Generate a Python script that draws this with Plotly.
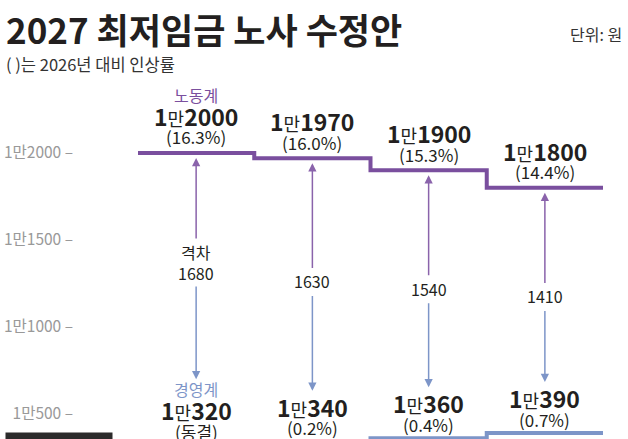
import plotly.graph_objects as go

# ---------------- data ----------------
columns = ["1차", "2차", "3차", "4차"]
labor_wage = [12000, 11970, 11900, 11800]          # 노동계
labor_rate = ["16.3%", "16.0%", "15.3%", "14.4%"]
mgmt_wage = [10320, 10340, 10360, 10390]           # 경영계
mgmt_rate = ["동결", "0.2%", "0.4%", "0.7%"]
base_2026 = 10320
y_ticks = [10500, 11000, 11500, 12000]

title_text = "2027 최저임금 노사 수정안"
subtitle_text = "( )는 2026년 대비 인상률"
unit_text = "단위: 원"

# ---------------- styling / geometry ----------------
W, H = 628, 439
ML = 74
PW = W - ML
Y_TOP, Y_BOT = 12879, 10356
PX = H / (Y_TOP - Y_BOT)          # pixels per won
X0 = -0.5 - 64 / 116.25
X1 = 3.5 + 25 / 116.25

PURPLE = "#7a4f9e"
PURPLE_ARROW = "#8a63ab"
BLUE = "#7d95c8"
DARK = "#231f20"
FONT = "Noto Sans CJK KR"


def ypx(v):
    return (Y_TOP - v) * PX


def yval(p):
    return Y_TOP - p / PX


def px_x(p):
    return (p - ML) / PW


def px_y(p):
    return 1 - p / H


def man(v, size_small=18):
    return (f"<b>1</b><span style='font-size:{size_small}px'>만</span>"
            f"<b>{v - 10000}</b>")


fig = go.Figure()

xs = [i - 0.5 for i in range(len(columns))] + [len(columns) - 0.5]
fig.add_trace(go.Scatter(x=xs, y=labor_wage + [labor_wage[-1]], mode="lines",
                         line=dict(color=PURPLE, width=4, shape="hv"),
                         hoverinfo="skip", showlegend=False))
fig.add_trace(go.Scatter(x=xs, y=mgmt_wage + [mgmt_wage[-1]], mode="lines",
                         line=dict(color=BLUE, width=4, shape="hv"),
                         hoverinfo="skip", showlegend=False))

ann = []
gap_shift = [-4, 7, 10, 11.5]
for i in range(len(columns)):
    Lp = ypx(labor_wage[i])
    Mp = ypx(mgmt_wage[i])
    # labor labels
    ann.append(dict(x=i, y=yval(Lp - 37), text=man(labor_wage[i]),
                    font=dict(size=23, color=DARK, family=FONT)))
    ann.append(dict(x=i, y=yval(Lp - 16), text=f"({labor_rate[i]})",
                    font=dict(size=17, color=DARK, family=FONT)))
    # management labels
    ann.append(dict(x=i, y=yval(Mp - 35), text=man(mgmt_wage[i]),
                    font=dict(size=23, color=DARK, family=FONT)))
    ann.append(dict(x=i, y=yval(Mp - 14), text=f"({mgmt_rate[i]})",
                    font=dict(size=17, color=DARK, family=FONT)))
    blue_tip = Mp - (66 if i == 0 else 51)
    gap = labor_wage[i] - mgmt_wage[i]
    mid = (Lp + blue_tip) / 2 + gap_shift[i]
    if i == 0:
        ann.append(dict(x=i, y=yval(Lp - 58), text="노동계",
                        font=dict(size=16, color=PURPLE, family=FONT)))
        ann.append(dict(x=i, y=yval(Mp - 56), text="경영계",
                        font=dict(size=16, color=BLUE, family=FONT)))
        ann.append(dict(x=i, y=yval(mid), text=f"격차<br>{gap}",
                        font=dict(size=16, color=DARK, family=FONT)))
        top_tail, bot_tail = mid - 22, mid + 23
    else:
        ann.append(dict(x=i, y=yval(mid), text=f"{gap}",
                        font=dict(size=16, color=DARK, family=FONT)))
        top_tail, bot_tail = mid - 12, mid + 13
    # purple arrow up to labor line
    ann.append(dict(x=i, y=labor_wage[i], ax=i, ay=yval(top_tail),
                    axref="x", ayref="y", text="", showarrow=True,
                    arrowhead=2, arrowsize=1.1, arrowwidth=1.5,
                    arrowcolor=PURPLE_ARROW, standoff=5))
    # blue arrow down to management labels
    ann.append(dict(x=i, y=yval(blue_tip), ax=i, ay=yval(bot_tail),
                    axref="x", ayref="y", text="", showarrow=True,
                    arrowhead=2, arrowsize=1.1, arrowwidth=1.5,
                    arrowcolor=BLUE, standoff=0))

for a in ann:
    a.setdefault("showarrow", False)
    a.setdefault("xref", "x")
    a.setdefault("yref", "y")

# titles
ann.append(dict(xref="paper", yref="paper", x=px_x(4), y=px_y(28),
                xanchor="left", yanchor="middle", showarrow=False,
                text=f"<b>{title_text}</b>",
                font=dict(size=35, color=DARK, family=FONT)))
ann.append(dict(xref="paper", yref="paper", x=px_x(4), y=px_y(64),
                xanchor="left", yanchor="middle", showarrow=False,
                text=subtitle_text,
                font=dict(size=16.5, color="#333333", family=FONT)))
ann.append(dict(xref="paper", yref="paper", x=px_x(624), y=px_y(34),
                xanchor="right", yanchor="middle", showarrow=False,
                text=unit_text,
                font=dict(size=16, color="#333333", family=FONT)))
ann.append(dict(xref="paper", yref="paper", x=px_x(5), y=px_y(432),
                xanchor="left", yanchor="top", showarrow=False,
                text=f"2026년 1만{base_2026 - 10000}", bgcolor="#2b2b2b",
                borderpad=4,
                font=dict(size=15, color="white", family=FONT)))

fig.update_layout(
    width=W, height=H, autosize=False,
    margin=dict(l=ML, r=0, t=0, b=0),
    paper_bgcolor="white", plot_bgcolor="white",
    xaxis=dict(range=[X0, X1], visible=False, fixedrange=True),
    yaxis=dict(range=[Y_BOT, Y_TOP], showgrid=False, zeroline=False,
               showline=False, tickvals=y_ticks,
               ticktext=[f"1만{v - 10000} –" for v in y_ticks],
               tickfont=dict(size=15.5, color="#999999", family=FONT),
               fixedrange=True),
    annotations=ann,
    showlegend=False,
)

fig.write_html("out.html")
